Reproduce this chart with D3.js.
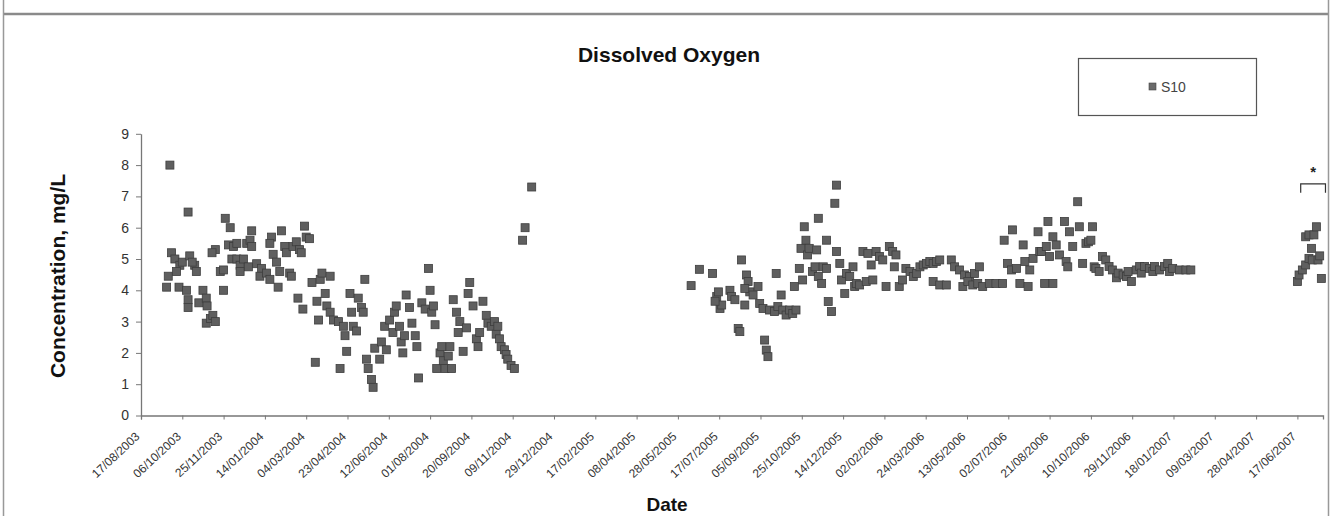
<!DOCTYPE html>
<html>
<head>
<meta charset="utf-8">
<script src="https://cdn.jsdelivr.net/npm/d3@7"></script>
<style>
  html, body { margin: 0; padding: 0; background: #fff; }
  svg { display: block; font-family: Arial, "Liberation Sans", sans-serif; }
</style>
</head>
<body>
<svg id="chart" width="1332" height="516"></svg>
<script>
// ---------------- data ----------------
const chartTitle = "Dissolved Oxygen";
const seriesName = "S10";
const xAxisTitle = "Date";
const yAxisTitle = "Concentration, mg/L";
const startDateLabel = "17/08/2003";
const axisEndDay = 1431; // days after start where the axis ends

const xTickLabels = [
  "17/08/2003","06/10/2003","25/11/2003","14/01/2004","04/03/2004","23/04/2004",
  "12/06/2004","01/08/2004","20/09/2004","09/11/2004","29/12/2004","17/02/2005",
  "08/04/2005","28/05/2005","17/07/2005","05/09/2005","25/10/2005","14/12/2005",
  "02/02/2006","24/03/2006","13/05/2006","02/07/2006","21/08/2006","10/10/2006",
  "29/11/2006","18/01/2007","09/03/2007","28/04/2007","17/06/2007"
];
const yTicks = [0,1,2,3,4,5,6,7,8,9];

// sampling days, counted in days after 17/08/2003
const sampleDays = [
  // 2003-2004
  35,37,33,31,41,47,46,43,50,57,59,65,67,55,57,57,62,70,75,79,80,79,84,87,90,
  90,86,100,96,100,102,108,106,112,116,110,116,120,124,128,132,134,134,120,130,
  140,146,144,152,156,158,156,160,164,166,170,168,174,176,180,182,184,188,192,
  194,198,200,204,190,196,207,211,213,215,217,219,223,225,229,229,233,239,241,
  245,247,249,253,255,257,261,263,267,269,271,273,275,279,281,283,289,291,295,
  297,301,305,307,309,313,315,317,319,321,325,328,332,334,336,340,344,348,350,
  352,354,356,358,362,364,366,368,372,374,376,378,382,384,386,390,394,396,398,
  402,406,408,410,414,418,420,424,428,430,432,434,436,440,442,444,448,452,
  462,465,473,
  // 2005-2007
  666,676,692,697,699,701,703,695,713,715,719,723,725,727,731,733,735,737,731,
  741,747,749,755,757,759,753,761,767,769,771,775,777,781,785,789,793,791,797,
  799,801,803,805,807,809,813,816,820,818,820,824,826,830,830,832,836,840,842,
  842,846,848,852,854,858,862,864,866,870,874,878,880,884,886,890,894,898,902,
  906,910,914,912,918,922,926,931,935,939,943,947,951,955,959,963,967,959,967,
  975,981,985,991,997,1003,1009,1015,995,1001,1007,1013,1019,1027,1035,1043,
  1045,1049,1055,1054,1060,1064,1068,1070,1074,1076,1080,1086,1088,1090,1094,
  1104,1096,1098,1100,1104,1108,1112,1118,1120,1122,1124,1128,1134,1136,1140,
  1144,1147,1150,1152,1154,1156,1160,1164,1168,1172,1176,1181,1183,1189,1193,
  1195,1199,1205,1209,1211,1215,1221,1225,1227,1233,1239,1243,1245,1249,1257,
  1265,1271,
  // 2007
  1400,1402,1406,1410,1414,1417,1418,1410,1414,1420,1423,1425,1427,1429
];

// dissolved oxygen, mg/L
const doValues = [
  // 2003-2004
  8.0,5.2,4.45,4.1,5.0,4.8,4.1,4.6,4.9,6.5,5.1,4.8,4.6,4.0,3.7,3.45,4.9,3.6,4.0,
  3.75,3.5,2.95,3.1,3.2,3.0,5.3,5.2,4.0,4.6,4.65,6.3,6.0,5.45,5.4,5.5,5.0,5.0,
  4.8,5.0,5.5,5.6,5.9,5.4,4.6,4.75,4.85,4.7,4.45,4.55,4.35,5.7,5.5,5.15,4.9,4.1,
  5.9,4.6,5.4,5.2,4.55,4.45,5.4,5.55,5.3,5.2,6.05,5.7,5.65,3.75,3.4,4.25,1.7,
  3.65,3.05,4.35,4.55,3.9,3.5,4.45,3.3,3.05,3.0,1.5,2.85,2.55,2.05,3.9,3.3,2.85,
  2.7,3.75,3.45,3.3,4.35,1.8,1.5,1.15,0.9,2.15,1.8,2.35,2.85,2.1,3.05,2.65,3.3,
  3.5,2.85,2.35,2.0,2.55,3.85,3.45,2.95,2.55,2.2,1.2,3.6,3.4,4.7,4.0,3.3,3.5,
  2.9,1.5,2.0,2.2,1.75,1.5,1.9,2.2,1.5,3.7,3.3,2.65,3.0,2.05,2.8,3.9,4.25,3.5,
  2.45,2.2,2.65,3.65,3.2,2.95,2.85,3.0,2.6,2.85,2.45,2.2,2.1,1.95,1.8,1.6,1.5,
  5.6,6.0,7.3,
  // 2005-2007
  4.15,4.67,4.54,3.8,3.95,3.42,3.53,3.65,4.0,3.8,3.7,2.78,2.68,4.97,3.53,4.49,
  4.28,3.95,4.06,3.85,4.12,3.58,2.41,2.09,1.88,3.42,3.37,3.32,4.54,3.48,3.85,
  3.37,3.21,3.37,3.26,3.37,4.12,4.7,5.34,4.33,6.03,5.6,5.13,5.34,4.6,4.75,6.3,
  5.29,4.44,4.22,4.75,5.6,4.7,3.64,3.32,6.78,7.36,5.24,4.86,4.33,3.9,4.54,4.44,
  4.75,4.12,4.22,4.17,5.24,4.28,5.18,4.81,4.33,5.24,5.08,4.97,4.12,5.4,5.24,
  5.13,4.75,4.12,4.33,4.7,4.6,4.44,4.54,4.75,4.81,4.86,4.92,4.86,4.92,4.97,4.28,
  4.17,4.17,4.97,4.75,4.65,4.49,4.44,4.54,4.75,4.12,4.28,4.17,4.22,4.12,4.22,
  4.22,4.22,5.6,4.86,5.93,4.65,4.7,4.22,5.45,4.92,4.12,4.65,5.02,5.87,5.24,5.24,
  4.22,4.22,5.4,6.2,5.08,5.71,5.45,5.13,6.2,4.92,4.75,5.87,5.4,6.83,6.03,4.86,
  5.5,5.55,5.6,6.03,4.75,4.7,4.6,5.08,4.97,4.76,4.65,4.4,4.55,4.49,4.44,4.6,
  4.28,4.65,4.76,4.55,4.76,4.7,4.6,4.76,4.65,4.76,4.86,4.6,4.7,4.65,4.65,4.65,
  // 2007
  4.28,4.49,4.65,4.81,5.02,5.34,4.97,5.71,5.77,5.77,6.03,4.97,5.1,4.38
];

// significance bracket drawn over the 2007 samples
const bracketDays = [1404, 1434];
const bracketValues = [7.4, 7.12];
const starDay = 1419;
const starValue = 7.62;

// ---------------- drawing ----------------
const svg = d3.select("#chart");
const parse = d3.utcParse("%d/%m/%Y");
const startDate = parse(startDateLabel);
const dayToDate = d => d3.utcDay.offset(startDate, d);

const x = d3.scaleUtc()
  .domain([startDate, dayToDate(axisEndDay)])
  .range([141, 1323]);
const y = d3.scaleLinear().domain([0, 9]).range([415.5, 133.8]);

// frame
svg.append("line").attr("x1", 3).attr("x2", 1329).attr("y1", 14).attr("y2", 14)
  .attr("stroke", "#8a8a8a").attr("stroke-width", 2.5);
svg.append("line").attr("x1", 3.5).attr("x2", 3.5).attr("y1", 0).attr("y2", 516)
  .attr("stroke", "#999").attr("stroke-width", 1.5);
svg.append("line").attr("x1", 1328.5).attr("x2", 1328.5).attr("y1", 0).attr("y2", 516)
  .attr("stroke", "#999").attr("stroke-width", 1.5);

// title
svg.append("text").attr("x", 669).attr("y", 62).attr("text-anchor", "middle")
  .attr("font-size", 21).attr("font-weight", "bold").attr("fill", "#111")
  .text(chartTitle);

// x axis
const xTickDates = xTickLabels.map(parse);
const xAxis = d3.axisBottom(x)
  .tickValues(xTickDates)
  .tickFormat((d, i) => xTickLabels[i])
  .tickSizeOuter(0).tickSize(4);
const gx = svg.append("g").attr("transform", "translate(0,415.5)").call(xAxis);
gx.select(".domain").attr("stroke", "#777").attr("stroke-width", 1.3);
gx.selectAll(".tick line").attr("stroke", "#777");
gx.selectAll(".tick text")
  .attr("x", 0).attr("y", 0).attr("dy", 0)
  .attr("text-anchor", "end")
  .attr("transform", "translate(-1,22) rotate(-43)")
  .attr("font-size", 12).attr("fill", "#333");

// y axis
const yAxis = d3.axisLeft(y).tickValues(yTicks).tickFormat(d3.format("d"))
  .tickSize(5).tickPadding(7).tickSizeOuter(0);
const gy = svg.append("g").attr("transform", "translate(141,0)").call(yAxis);
gy.select(".domain").attr("stroke", "#777").attr("stroke-width", 1.3);
gy.selectAll(".tick line").attr("stroke", "#777");
gy.selectAll(".tick text").attr("font-size", 14).attr("fill", "#333");

// axis titles
svg.append("text").attr("transform", "translate(65,276) rotate(-90)")
  .attr("text-anchor", "middle").attr("font-size", 21).attr("font-weight", "bold")
  .attr("fill", "#111").text(yAxisTitle);
svg.append("text").attr("x", 667).attr("y", 511).attr("text-anchor", "middle")
  .attr("font-size", 19).attr("font-weight", "bold").attr("fill", "#111")
  .text(xAxisTitle);

// points
const points = sampleDays.map((d, i) => ({ date: dayToDate(d), value: doValues[i] }));
const ms = 8;
svg.append("g").selectAll("rect").data(points).join("rect")
  .attr("x", d => x(d.date) - ms / 2)
  .attr("y", d => y(d.value) - ms / 2)
  .attr("width", ms).attr("height", ms)
  .attr("fill", "#5f5f5f").attr("stroke", "#3e3e3e").attr("stroke-width", 0.8);

// bracket + star
const bx0 = x(dayToDate(bracketDays[0])), bx1 = x(dayToDate(bracketDays[1]));
const byTop = y(bracketValues[0]), byBot = y(bracketValues[1]);
svg.append("path")
  .attr("d", `M${bx0},${byBot}V${byTop}H${bx1}V${byBot}`)
  .attr("fill", "none").attr("stroke", "#333").attr("stroke-width", 1.2);
svg.append("text").attr("x", x(dayToDate(starDay))).attr("y", y(starValue))
  .attr("text-anchor", "middle").attr("font-size", 15).attr("font-weight", "bold")
  .attr("fill", "#222").text("*");

// legend
const lg = svg.append("g");
lg.append("rect").attr("x", 1078.5).attr("y", 58.5).attr("width", 178).attr("height", 57)
  .attr("fill", "#fff").attr("stroke", "#555").attr("stroke-width", 1.2);
lg.append("rect").attr("x", 1149).attr("y", 83).attr("width", 7).attr("height", 7)
  .attr("fill", "#6a6a6a").attr("stroke", "#444").attr("stroke-width", 0.6);
lg.append("text").attr("x", 1161).attr("y", 92).attr("font-size", 14)
  .attr("fill", "#444").text(seriesName);
</script>
</body>
</html>
